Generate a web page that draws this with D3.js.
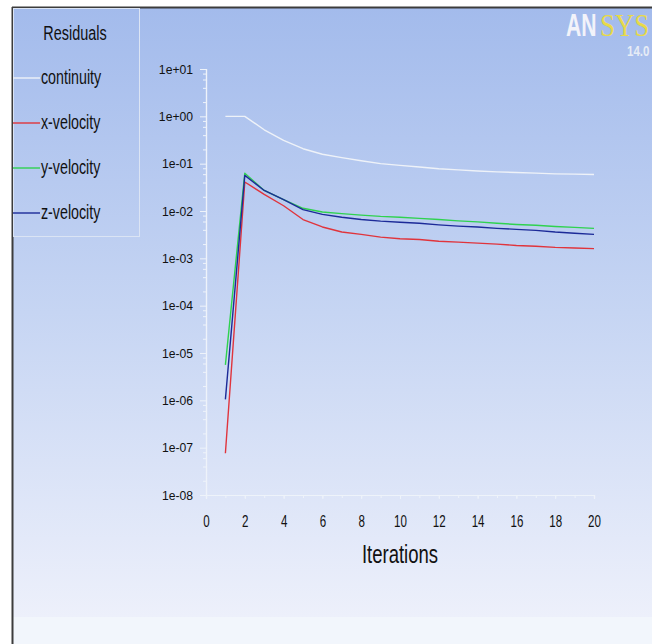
<!DOCTYPE html>
<html>
<head>
<meta charset="utf-8">
<script src="https://cdn.jsdelivr.net/npm/d3@7"></script>
<style>
html,body{margin:0;padding:0;background:#fff;}
svg{display:block;}
text{font-family:"Liberation Sans",Arial,sans-serif;}
</style>
</head>
<body>
<svg id="chart" width="652" height="644"></svg>
<script>
const iterations = [1,2,3,4,5,6,7,8,9,10,11,12,13,14,15,16,17,18,19,20];
const continuity = [1, 1, 0.52, 0.31, 0.207, 0.158, 0.134, 0.115, 0.1, 0.092, 0.085, 0.078, 0.074, 0.07, 0.067, 0.065, 0.063, 0.061, 0.06, 0.059];
const xVelocity = [7.6e-8, 0.041, 0.0224, 0.0129, 0.0066, 0.0046, 0.0036, 0.0032, 0.0028, 0.0026, 0.0025, 0.0023, 0.0022, 0.0021, 0.002, 0.00187, 0.0018, 0.0017, 0.00165, 0.0016];
const yVelocity = [5.6e-6, 0.063, 0.0272, 0.0174, 0.0114, 0.0095, 0.0088, 0.0082, 0.0077, 0.0074, 0.007, 0.0066, 0.0062, 0.0059, 0.0055, 0.0052, 0.005, 0.0047, 0.0045, 0.0043];
const zVelocity = [1.05e-6, 0.0566, 0.0272, 0.0174, 0.0107, 0.0085, 0.0074, 0.0066, 0.0061, 0.0058, 0.0055, 0.0051, 0.0048, 0.0046, 0.0043, 0.0041, 0.0039, 0.0036, 0.0034, 0.0032];
const seriesNames = ["continuity","x-velocity","y-velocity","z-velocity"];
const seriesColors = ["#eef2f8","#e0343c","#2fd24f","#1c2a98"];
const yTickValues = [1e1,1e0,1e-1,1e-2,1e-3,1e-4,1e-5,1e-6,1e-7,1e-8];
const yTickLabels = ["1e+01","1e+00","1e-01","1e-02","1e-03","1e-04","1e-05","1e-06","1e-07","1e-08"];
const xTickValues = [0,2,4,6,8,10,12,14,16,18,20];

const seriesValues = [continuity, xVelocity, yVelocity, zVelocity];

// squeeze text horizontally (narrow font look) keeping its anchor
function condense(sel, f){
  sel.each(function(){
    const w = this.getComputedTextLength();
    d3.select(this).attr("textLength", w*f).attr("lengthAdjust","spacingAndGlyphs");
  });
}

const svg = d3.select("#chart");
const defs = svg.append("defs");
const grad = defs.append("linearGradient").attr("id","bg").attr("x1",0).attr("y1",0).attr("x2",0).attr("y2",1);
grad.append("stop").attr("offset","0").attr("stop-color","#a3bbec");
grad.append("stop").attr("offset","0.5").attr("stop-color","#c6d5f3");
grad.append("stop").attr("offset","1").attr("stop-color","#edf0fb");

// background panel
svg.append("rect").attr("x",13).attr("y",8).attr("width",639).attr("height",609).attr("fill","url(#bg)");
svg.append("rect").attr("x",13).attr("y",617).attr("width",639).attr("height",27).attr("fill","#f2f6fc");
svg.append("line").attr("x1",12).attr("x2",652).attr("y1",7.5).attr("y2",7.5).attr("stroke","#3c3c3c").attr("stroke-width",2);
svg.append("line").attr("x1",12.5).attr("x2",12.5).attr("y1",7).attr("y2",644).attr("stroke","#3c3c3c").attr("stroke-width",2);

// scales
const x = d3.scaleLinear().domain([0,20]).range([206,594]);
const y = d3.scaleLog().domain([1e-8,1e1]).range([495,69]);

// y axis
const minorY = [];
for (let e=-8; e<1; e++) for (const m of [2,4,6,8]) minorY.push(m*Math.pow(10,e));
const gy = svg.append("g").attr("transform","translate(206,0)")
  .call(d3.axisLeft(y).tickValues(minorY).tickSize(3).tickFormat(""));
const gyMaj = svg.append("g").attr("transform","translate(206,0)")
  .call(d3.axisLeft(y).tickValues(yTickValues).tickSize(6).tickPadding(7)
    .tickFormat((d,i)=>yTickLabels[i]));
[gy,gyMaj].forEach(g=>{
  g.select(".domain").attr("stroke","#eef3fa").attr("stroke-width",1.2);
  g.selectAll(".tick line").attr("stroke","#eef3fa");
});
gyMaj.selectAll(".tick text").attr("fill","#111").style("font-size","13.5px").style("font-family",'"Liberation Sans",Arial,sans-serif');
condense(gyMaj.selectAll(".tick text"), 0.9);

// x axis
const gx = svg.append("g").attr("transform","translate(0,495)")
  .call(d3.axisBottom(x).tickValues(d3.range(0,21,1)).tickSize(3).tickFormat(""));
const gxMaj = svg.append("g").attr("transform","translate(0,495)")
  .call(d3.axisBottom(x).tickValues(xTickValues).tickSize(4).tickPadding(16).tickFormat(d3.format("d")));
[gx,gxMaj].forEach(g=>{
  g.select(".domain").attr("stroke","#eef3fa").attr("stroke-width",1.2);
  g.selectAll(".tick line").attr("stroke","#eef3fa");
});
gxMaj.selectAll(".tick text").attr("fill","#111").style("font-size","17px").style("font-family",'"Liberation Sans",Arial,sans-serif');
condense(gxMaj.selectAll(".tick text"), 0.68);

const xTitle = svg.append("text").attr("x",400).attr("y",563).attr("text-anchor","middle")
  .attr("fill","#111").style("font-size","25px").text("Iterations");
condense(xTitle, 0.74);

// lines
const line = d3.line().x((d,i)=>x(iterations[i])).y(d=>y(d));
seriesValues.forEach((vals,k)=>{
  svg.append("path").datum(vals).attr("d",line).attr("fill","none")
    .attr("stroke",seriesColors[k]).attr("stroke-width",1.4).attr("stroke-linejoin","round");
});

// legend
svg.append("rect").attr("x",13.5).attr("y",8.5).attr("width",126).attr("height",228)
  .attr("fill","none").attr("stroke","#dbe4f4").attr("stroke-width",1);
const legTitle = svg.append("text").attr("x",75).attr("y",40).attr("text-anchor","middle").attr("fill","#111")
  .style("font-size","19.5px").text("Residuals");
condense(legTitle, 0.74);
const legY = d3.scalePoint().domain(seriesNames).range([78,213]);
seriesNames.forEach((n,k)=>{
  const yy = legY(n);
  svg.append("line").attr("x1",13).attr("x2",40).attr("y1",yy).attr("y2",yy)
    .attr("stroke",seriesColors[k]).attr("stroke-width",1.4);
  const t = svg.append("text").attr("x",41).attr("y",yy+6).attr("fill","#111")
    .style("font-size","19.5px").text(n);
  condense(t, 0.73);
});

// ANSYS logo (scaled with transforms so the boxes stay inside the picture)
svg.append("text").attr("transform","translate(566,36) scale(0.66,1)").attr("fill","#f2f3fa")
  .style("font-size","32px").style("font-weight","bold").text("AN");
svg.append("text").attr("transform","translate(600,36) scale(0.84,1)").attr("fill","#e7d94a")
  .style("font-size","32px").style("font-family",'"Liberation Serif",serif').text("SYS");
svg.append("text").attr("transform","translate(627,56) scale(0.82,1)").attr("fill","#e6ecf6")
  .style("font-size","14px").style("font-weight","bold").text("14.0");
</script>
</body>
</html>
